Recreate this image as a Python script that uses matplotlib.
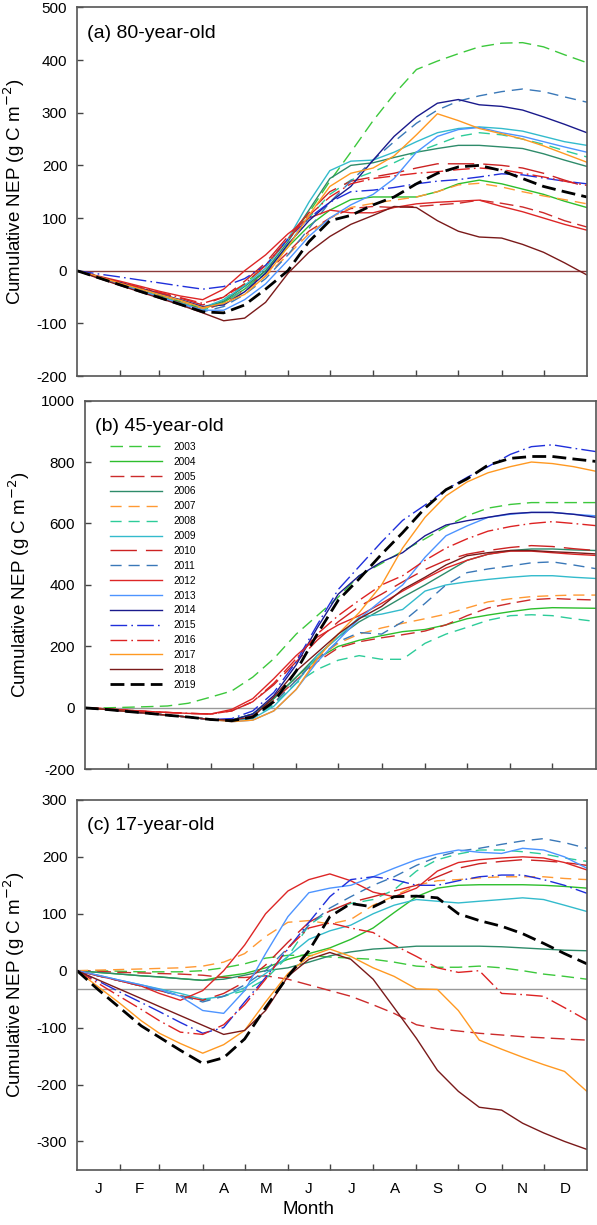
#累计NEP三个林分对比图
import matplotlib.pyplot as plt

#基本配置
plt.rcParams['font.family'] = ['Liberation Sans', 'DejaVu Sans']
plt.rcParams['axes.unicode_minus'] = False
plt.rcParams['lines.scale_dashes'] = False

#采样日（年内第几天）
days = [0, 15, 31, 46, 59, 74, 90, 105, 120, 135, 151, 166, 181, 196, 212, 227, 243, 258, 273, 288, 304, 319, 334, 349, 365]
years = [str(y) for y in range(2003, 2020)]
months = ['J', 'F', 'M', 'A', 'M', 'J', 'J', 'A', 'S', 'O', 'N', 'D']
month_edges = [31, 59, 90, 120, 151, 181, 212, 243, 273, 304, 334]
month_mid = [15.5, 45, 74.5, 105, 135.5, 166, 196.5, 227.5, 258, 288.5, 319, 349.5]

#(a) 80年林分
nep_80 = [
    [0, -12, -25, -37, -47, -59, -72, -55, -25, 10, 60, 110, 170, 225, 285, 335, 382, 398, 412, 425, 432, 433, 425, 410, 395],  # 2003
    [0, -12, -25, -37, -47, -59, -72, -60, -35, 0, 45, 85, 115, 135, 140, 140, 140, 150, 165, 172, 165, 155, 145, 132, 120],  # 2004
    [0, -12, -26, -38, -49, -61, -75, -62, -35, -5, 35, 75, 100, 118, 122, 120, 122, 125, 128, 134, 128, 121, 110, 95, 83],  # 2005
    [0, -11, -24, -35, -45, -56, -70, -58, -30, 0, 55, 115, 175, 200, 205, 215, 225, 232, 238, 238, 235, 232, 222, 210, 198],  # 2006
    [0, -12, -25, -36, -47, -58, -72, -62, -40, -10, 30, 70, 100, 120, 128, 134, 140, 150, 163, 166, 159, 150, 142, 135, 127],  # 2007
    [0, -12, -26, -38, -49, -61, -75, -62, -35, -5, 50, 100, 145, 172, 188, 205, 225, 240, 255, 262, 258, 250, 240, 228, 216],  # 2008
    [0, -11, -24, -35, -45, -56, -70, -55, -28, 5, 60, 130, 190, 208, 210, 225, 245, 262, 270, 273, 270, 265, 255, 245, 238],  # 2009
    [0, -11, -22, -33, -42, -52, -65, -50, -20, 15, 65, 110, 150, 170, 178, 185, 195, 203, 203, 203, 200, 195, 185, 172, 159],  # 2010
    [0, -13, -27, -40, -51, -64, -78, -68, -45, -15, 30, 80, 130, 170, 210, 245, 280, 305, 322, 332, 340, 345, 340, 330, 320],  # 2011
    [0, -10, -20, -30, -39, -48, -55, -35, 0, 30, 70, 100, 115, 110, 110, 120, 127, 130, 132, 134, 122, 112, 100, 88, 77],  # 2012
    [0, -13, -27, -39, -50, -62, -75, -75, -55, -25, 20, 65, 100, 125, 145, 175, 225, 255, 268, 272, 262, 255, 245, 235, 225],  # 2013
    [0, -11, -23, -34, -44, -55, -68, -65, -40, -5, 50, 95, 130, 160, 210, 255, 292, 318, 325, 315, 312, 305, 292, 278, 262],  # 2014
    [0, -6, -12, -18, -23, -29, -35, -30, -15, 10, 60, 100, 130, 150, 153, 158, 165, 170, 173, 178, 184, 182, 176, 170, 165],  # 2015
    [0, -11, -22, -32, -41, -51, -62, -50, -25, 10, 60, 105, 140, 165, 175, 180, 185, 188, 192, 195, 192, 185, 178, 170, 162],  # 2016
    [0, -11, -24, -35, -45, -56, -70, -62, -45, -10, 45, 105, 160, 185, 195, 218, 258, 298, 285, 270, 260, 250, 237, 222, 206],  # 2017
    [0, -14, -28, -41, -52, -65, -80, -95, -90, -60, -5, 35, 65, 88, 105, 122, 120, 95, 75, 64, 62, 50, 35, 15, -8],  # 2018
    [0, -13, -27, -40, -51, -64, -78, -80, -65, -35, 0, 55, 95, 105, 125, 140, 165, 185, 197, 200, 190, 175, 160, 150, 140],  # 2019
]

#(b) 45年林分
nep_45 = [
    [0, 0, 2, 4, 6, 15, 35, 55, 100, 160, 240, 300, 360, 430, 470, 510, 550, 590, 625, 650, 662, 668, 668, 668, 668],  # 2003
    [0, -5, -12, -18, -24, -30, -38, -40, -20, 30, 100, 160, 200, 220, 235, 248, 255, 270, 290, 302, 313, 322, 326, 325, 324],  # 2004
    [0, -5, -12, -18, -24, -30, -38, -40, -25, 25, 90, 150, 195, 215, 228, 238, 250, 270, 300, 325, 340, 352, 356, 353, 351],  # 2005
    [0, -5, -12, -18, -24, -30, -38, -40, -20, 30, 100, 170, 230, 280, 320, 360, 400, 440, 480, 500, 512, 517, 517, 514, 512],  # 2006
    [0, -5, -12, -18, -24, -30, -38, -40, -30, 15, 90, 160, 210, 240, 260, 275, 290, 305, 325, 345, 355, 362, 365, 367, 367],  # 2007
    [0, -5, -12, -18, -24, -30, -38, -42, -30, 10, 80, 125, 155, 170, 158, 158, 210, 240, 262, 285, 300, 303, 300, 290, 281],  # 2008
    [0, -5, -12, -18, -24, -30, -38, -42, -35, 5, 80, 170, 230, 295, 305, 320, 380, 400, 410, 418, 425, 430, 430, 425, 421],  # 2009
    [0, -3, -8, -12, -15, -18, -20, -10, 20, 75, 150, 220, 280, 330, 370, 410, 450, 480, 500, 512, 522, 528, 525, 518, 512],  # 2010
    [0, -5, -12, -18, -24, -30, -38, -42, -30, 15, 90, 160, 215, 245, 240, 280, 340, 400, 440, 452, 462, 472, 475, 465, 453],  # 2011
    [0, -3, -8, -12, -15, -18, -20, -5, 30, 95, 170, 230, 270, 300, 340, 380, 420, 455, 480, 500, 510, 510, 505, 500, 496],  # 2012
    [0, -5, -12, -18, -24, -30, -38, -45, -40, -10, 60, 150, 220, 290, 350, 400, 490, 560, 592, 620, 630, 636, 636, 630, 625],  # 2013
    [0, -5, -12, -18, -24, -30, -38, -40, -20, 40, 140, 260, 370, 430, 475, 505, 560, 595, 609, 620, 632, 636, 636, 630, 620],  # 2014
    [0, -5, -12, -18, -24, -30, -38, -35, -10, 50, 150, 270, 385, 460, 540, 610, 660, 710, 750, 785, 825, 850, 856, 845, 834],  # 2015
    [0, -3, -8, -12, -15, -18, -20, -10, 20, 80, 160, 240, 300, 350, 400, 430, 480, 520, 550, 575, 590, 600, 606, 600, 593],  # 2016
    [0, -5, -12, -18, -24, -30, -38, -45, -40, -10, 60, 160, 240, 310, 400, 520, 620, 690, 735, 765, 785, 800, 795, 785, 770],  # 2017
    [0, -5, -12, -18, -24, -30, -38, -40, -30, 35, 120, 180, 240, 290, 330, 385, 425, 465, 495, 505, 512, 512, 508, 505, 501],  # 2018
    [0, -5, -12, -18, -24, -30, -38, -42, -30, 20, 120, 240, 350, 420, 500, 570, 650, 710, 745, 790, 812, 818, 818, 810, 802],  # 2019
]

#(c) 17年林分（2014年无数据）
nep_17 = [
    [0, 0, -1, -2, -2, -2, 0, 5, 12, 22, 27, 27, 24, 22, 20, 15, 8, 6, 6, 8, 5, 0, -6, -10, -15],  # 2003
    [0, -3, -6, -9, -11, -14, -17, -10, -5, 5, 20, 30, 40, 55, 75, 102, 130, 145, 150, 151, 151, 151, 150, 148, 145],  # 2004
    [0, -1, -3, -4, -5, -6, -8, -12, -12, -9, -15, -25, -35, -45, -60, -75, -95, -102, -106, -110, -113, -116, -118, -120, -122],  # 2005
    [0, -3, -6, -9, -11, -14, -17, -15, -8, 0, 5, 15, 26, 33, 38, 40, 43, 43, 43, 43, 42, 40, 38, 36, 35],  # 2006
    [0, 1, 2, 3, 4, 5, 8, 15, 30, 60, 85, 88, 82, 90, 115, 131, 150, 158, 160, 163, 165, 165, 165, 162, 160],  # 2007
    [0, -9, -18, -27, -35, -44, -52, -45, -35, -15, 25, 80, 105, 118, 125, 142, 175, 195, 205, 212, 212, 209, 205, 198, 192],  # 2008
    [0, -8, -17, -25, -32, -40, -50, -45, -30, -5, 25, 55, 70, 80, 100, 115, 125, 122, 119, 122, 125, 128, 125, 115, 104],  # 2009
    [0, -9, -18, -27, -35, -44, -52, -40, -20, 10, 50, 85, 105, 120, 130, 140, 150, 165, 180, 188, 192, 195, 193, 190, 185],  # 2010
    [0, -9, -18, -27, -35, -44, -55, -45, -25, 0, 40, 80, 110, 130, 150, 165, 185, 200, 210, 215, 222, 228, 232, 225, 215],  # 2011
    [0, -9, -18, -27, -40, -52, -35, 0, 45, 100, 140, 160, 170, 158, 138, 130, 145, 175, 190, 195, 198, 200, 198, 190, 177],  # 2012
    [0, -8, -17, -25, -33, -45, -70, -75, -35, 30, 95, 137, 145, 150, 165, 180, 195, 205, 212, 208, 206, 215, 212, 200, 180],  # 2013
    None,  # 2014
    [0, -18, -38, -56, -72, -91, -110, -100, -55, -12, 38, 85, 130, 160, 165, 160, 150, 150, 158, 165, 168, 168, 160, 150, 136],  # 2015
    [0, -22, -46, -68, -88, -108, -112, -95, -60, -15, 40, 75, 84, 75, 67, 45, 25, 5, -3, 0, -40, -42, -45, -65, -87],  # 2016
    [0, -28, -58, -88, -110, -128, -145, -130, -105, -55, -5, 25, 38, 25, 5, -10, -32, -33, -70, -122, -138, -152, -165, -177, -212],  # 2017
    [0, -16, -33, -49, -63, -79, -96, -112, -105, -70, -10, 20, 32, 20, -15, -65, -119, -175, -212, -240, -245, -268, -285, -300, -314],  # 2018
    [0, -33, -66, -97, -117, -140, -163, -153, -120, -65, -10, 35, 95, 118, 112, 130, 131, 128, 100, 88, 78, 65, 48, 30, 12],  # 2019
]

#线型与颜色
colors = ['#3CC83C', '#2DBE2D', '#CC2B2B', '#2E8B6A', '#FF9933', '#2DCC99', '#33BBCC', '#CC2222',
          '#3A78B8', '#DD2626', '#4D94FF', '#1A1A8C', '#1F2FDB', '#DD2222', '#FF9922', '#7A1A1A', 'black']
dashes = [(9, 4.5), None, (10, 4.5), None, (8, 5), (8, 5), None, (19, 6.5),
          (8, 5), None, None, None, (12, 3, 1.2, 3), (12, 3, 1.2, 3), None, None, (10, 4.5)]
widths = [1.0] * 16 + [2.0]


def draw_panel(ax, data, ylim, yticks, label, ref_y, ref_color):
    ax.axhline(ref_y, color=ref_color, lw=1.0, zorder=1)
    for i in range(len(years)):
        if data[i] is None:
            continue
        line, = ax.plot(days, data[i], color=colors[i], lw=widths[i], label=years[i], zorder=2)
        if dashes[i] is not None:
            line.set_dashes(dashes[i])
    ax.set_xlim(0, 365)
    ax.set_ylim(ylim)
    ax.set_yticks(yticks)
    ax.set_xticks(month_edges)
    ax.set_xticklabels([])
    ax.tick_params(direction='in', length=4, width=1, labelsize=11, color='#444444', pad=7)
    for s in ax.spines.values():
        s.set_color('#555555')
        s.set_linewidth(1.2)
    ax.text(0.02, 0.93, label, transform=ax.transAxes, fontsize=14, va='center', ha='left')
    ax.set_ylabel('Cumulative NEP (g C m$^{-2}$)', fontsize=13.5)


fig = plt.figure(figsize=(5.97, 12.25), dpi=100)
ax1 = fig.add_axes([0.129, 0.693, 0.854, 0.301])
ax2 = fig.add_axes([0.142, 0.372, 0.856, 0.301])
ax3 = fig.add_axes([0.129, 0.045, 0.854, 0.302])

draw_panel(ax1, nep_80, (-200, 500), range(-200, 501, 100), '(a) 80-year-old', 0, '#8B3A3A')
draw_panel(ax2, nep_45, (-200, 1000), range(-200, 1001, 200), '(b) 45-year-old', 0, '#999999')
draw_panel(ax3, nep_17, (-350, 300), range(-300, 301, 100), '(c) 17-year-old', -32, '#999999')

ax1.yaxis.set_label_coords(-0.098, 0.5)
ax2.yaxis.set_label_coords(-0.104, 0.5)
ax3.yaxis.set_label_coords(-0.098, 0.5)

#月份标签只在最下面
ax3.set_xticks(month_mid, minor=True)
ax3.set_xticklabels(months, minor=True)
ax3.tick_params(axis='x', which='minor', length=0, labelsize=11, pad=9)
fig.text(309 / 597, 1 - 1210 / 1225, 'Month', fontsize=13.5, ha='center', va='center')

ax2.legend(loc='upper left', bbox_to_anchor=(0.049, 0.888), frameon=False, fontsize=7.3,
           handlelength=5.1, handletextpad=1.15, labelspacing=0.48, borderpad=0, borderaxespad=0)

plt.savefig('out.png', dpi=100)
